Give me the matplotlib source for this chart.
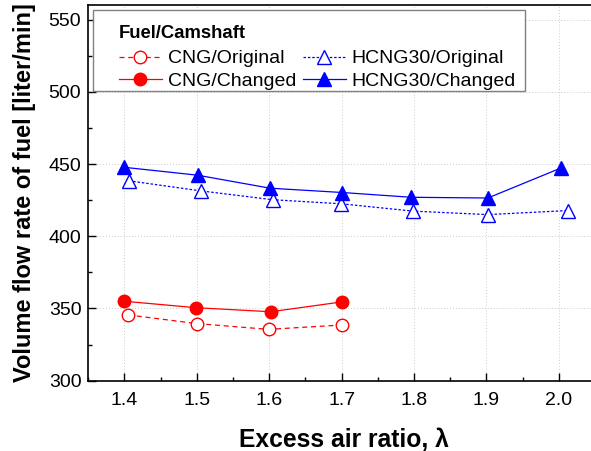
import matplotlib
matplotlib.use("Agg")
import matplotlib.pyplot as plt
from matplotlib.patches import Rectangle
from matplotlib.ticker import MultipleLocator

plt.rcParams["font.family"] = ["Liberation Sans", "DejaVu Sans"]

# Data
cng_orig_x = [1.405, 1.50, 1.599, 1.70]
cng_orig_y = [345.5, 339.5, 335.5, 338.5]
cng_chg_x = [1.399, 1.499, 1.602, 1.70]
cng_chg_y = [355.0, 350.5, 347.7, 354.5]
h30_orig_x = [1.406, 1.506, 1.605, 1.699, 1.799, 1.902, 2.012]
h30_orig_y = [438.4, 431.4, 425.3, 422.5, 417.4, 415.0, 417.8]
h30_chg_x = [1.399, 1.501, 1.601, 1.701, 1.796, 1.902, 2.003]
h30_chg_y = [447.8, 442.3, 433.3, 430.3, 427.0, 426.5, 447.3]

x_ticks = [1.4, 1.5, 1.6, 1.7, 1.8, 1.9, 2.0]
y_ticks = [300, 350, 400, 450, 500, 550]

W, H = 591, 451
fig = plt.figure(figsize=(W / 100, H / 100), dpi=100)
px_per_x = 723.9
x0, x1 = 1.35, 2.055
ax_left_px, ax_top_px, ax_bot_px = 88.3, 5.3, 380.6
ax_w_px = (x1 - x0) * px_per_x
ax_h_px = ax_bot_px - ax_top_px
ax = fig.add_axes([ax_left_px / W, (H - ax_bot_px) / H, ax_w_px / W, ax_h_px / H])

ax.plot(cng_orig_x, cng_orig_y, color="red", linestyle=(0, (4, 3)), linewidth=0.9,
        marker="o", markersize=9, markerfacecolor="white", markeredgecolor="red",
        markeredgewidth=1.0, label="CNG/Original")
ax.plot(cng_chg_x, cng_chg_y, color="red", linestyle="-", linewidth=0.9,
        marker="o", markersize=9, markerfacecolor="red", markeredgecolor="red",
        label="CNG/Changed")
ax.plot(h30_orig_x, h30_orig_y, color="blue", linestyle=(0, (2, 1.5)), linewidth=0.9,
        marker="^", markersize=10.5, markerfacecolor="white", markeredgecolor="blue",
        markeredgewidth=1.0, label="HCNG30/Original")
ax.plot(h30_chg_x, h30_chg_y, color="blue", linestyle="-", linewidth=0.9,
        marker="^", markersize=10.5, markerfacecolor="blue", markeredgecolor="blue",
        label="HCNG30/Changed")

ax.set_xlim(x0, x1)
ax.set_ylim(300, 560)
ax.set_xticks(x_ticks)
ax.set_xticklabels([f"{v:.1f}" for v in x_ticks])
ax.set_yticks(y_ticks)
ax.xaxis.set_minor_locator(MultipleLocator(0.05))
ax.yaxis.set_minor_locator(MultipleLocator(25))
ax.tick_params(axis="both", which="major", direction="in", length=6, width=1,
               labelsize=14, colors="black", top=False, right=False)
ax.tick_params(axis="x", which="major", pad=8)
ax.tick_params(axis="y", which="major", pad=5)
ax.tick_params(axis="both", which="minor", direction="in", length=3, width=1,
               top=False, right=False)
ax.spines["right"].set_visible(False)
for s in ["left", "bottom", "top"]:
    ax.spines[s].set_linewidth(1.2)

ax.grid(True, which="major", linestyle=(0, (1, 2)), linewidth=0.7, color="#cccccc")
ax.set_axisbelow(True)

ax.set_xlabel("Excess air ratio, λ", fontsize=17.7, fontweight="bold", labelpad=14)
ax.set_ylabel("Volume flow rate of fuel [liter/min]", fontsize=17, fontweight="bold",
              labelpad=9)

# legend frame (drawn separately, the original box has uneven padding)
def ax_x(px):
    return (px - ax_left_px) / ax_w_px


def ax_y(px):
    return 1 - (px - ax_top_px) / ax_h_px


frame = Rectangle((ax_x(93), ax_y(91)), ax_x(525) - ax_x(93), ax_y(10) - ax_y(91),
                  transform=ax.transAxes, facecolor="white", edgecolor="#808080",
                  linewidth=1.0, zorder=4)
ax.add_patch(frame)

handles, labels = ax.get_legend_handles_labels()
leg = ax.legend(handles, labels,
                ncol=2, loc="upper left", bbox_to_anchor=(ax_x(119), ax_y(25)),
                title="Fuel/Camshaft", title_fontproperties={"weight": "bold", "size": 13.3},
                fontsize=14, frameon=False,
                handlelength=2.2, handletextpad=0.3, columnspacing=0.35,
                labelspacing=0.26, borderpad=0.0, borderaxespad=0.0)
leg.set_zorder(5)
leg._legend_box.align = "left"
leg._legend_box.sep = 0.4 * 14

fig.savefig("out.png", dpi=100)
